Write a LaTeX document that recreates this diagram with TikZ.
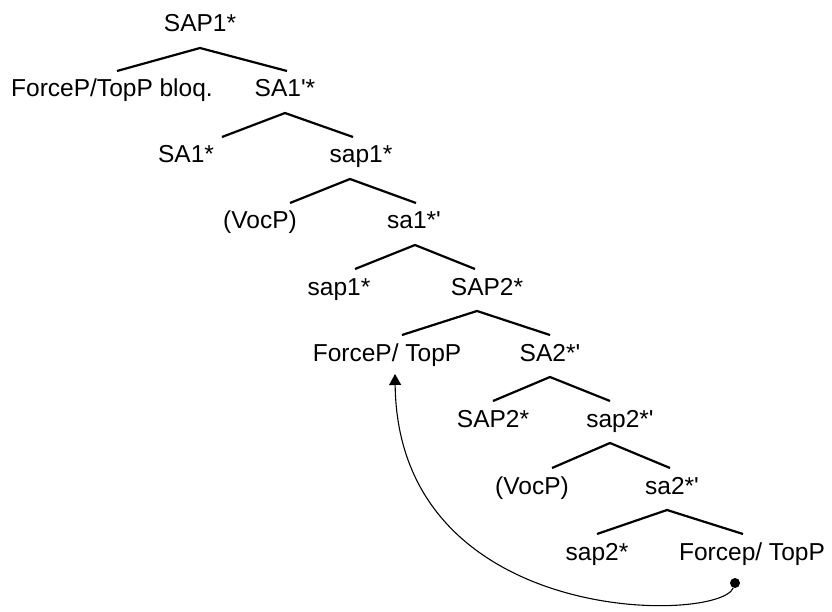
\documentclass[tikz,border=0pt]{standalone}
\usepackage{fontspec}
\setmainfont{Liberation Sans}
\usetikzlibrary{arrows.meta}

\begin{document}
\begin{tikzpicture}[x=1pt,y=-1pt,>={Triangle[length=11pt,width=12pt]},
    cat/.style={anchor=base,inner sep=0pt,outer sep=9pt,text height=17pt,text depth=7pt,font=\fontsize{24.5}{28}\selectfont},
    branch/.style={line width=2.2pt},
    move/.style={->,line width=1.1pt},
    dot/.style={circle,fill,inner sep=0pt,minimum size=10pt}]

    \useasboundingbox (0,0) rectangle (832,612);

    % categorias del arbol
    \node[cat] (SAPa)   at (200,32)  {SAP1*};
    \node[cat] (FTbloq) at (112,97)  {ForceP/TopP bloq.};
    \node[cat] (SAap)   at (285,97)  {SA1\textquotesingle*};
    \node[cat] (SAa)    at (186,163) {SA1*};
    \node[cat] (sapa)   at (361,163) {sap1*};
    \node[cat] (Voca)   at (260,229) {(VocP)};
    \node[cat] (saap)   at (414,229) {sa1*\textquotesingle};
    \node[cat] (sapb)   at (339,295) {sap1*};
    \node[cat] (SAPb)   at (487,295) {SAP2*};
    \node[cat] (FTa)    at (387,361) {ForceP/ TopP};
    \node[cat] (SAbp)   at (550,361) {SA2*\textquotesingle};
    \node[cat] (SAPc)   at (493,427) {SAP2*};
    \node[cat] (sapbp)  at (620,427) {sap2*\textquotesingle};
    \node[cat] (Vocb)   at (532,494) {(VocP)};
    \node[cat] (sabp)   at (672,494) {sa2*\textquotesingle};
    \node[cat] (sapc)   at (597,560) {sap2*};
    \node[cat] (FTb)    at (752,560) {Forcep/ TopP};

    % ramas
    \draw[branch] ([xshift=5pt]FTbloq.north) -- (SAPa.south) -- ([xshift=2pt]SAap.north);
    \draw[branch] ([xshift=36pt]SAa.north) -- (SAap.south) -- ([xshift=-8pt]sapa.north);
    \draw[branch] ([xshift=30pt]Voca.north) -- ([xshift=-11pt]sapa.south) -- ([xshift=2pt]saap.north);
    \draw[branch] ([xshift=16pt]sapb.north) -- ([xshift=1pt]saap.south) -- ([xshift=-12pt]SAPb.north);
    \draw[branch] ([xshift=15pt]FTa.north) -- ([xshift=-10pt]SAPb.south) -- (SAbp.north);
    \draw[branch] (SAPc.north) -- (SAbp.south) -- ([xshift=-10pt]sapbp.north);
    \draw[branch] ([xshift=20pt]Vocb.north) -- ([xshift=-10pt]sapbp.south) -- ([xshift=-2pt]sabp.north);
    \draw[branch] (sapc.north) -- ([xshift=-5pt]sabp.south) -- ([xshift=-9pt]FTb.north);

    % movimiento
    \node[dot] (d) at (735,583) {};
    \draw[move] (d) .. controls +(-15,40) and +(3,255) .. ([xshift=8pt,yshift=-13pt]FTa.base);

\end{tikzpicture}
\end{document}
